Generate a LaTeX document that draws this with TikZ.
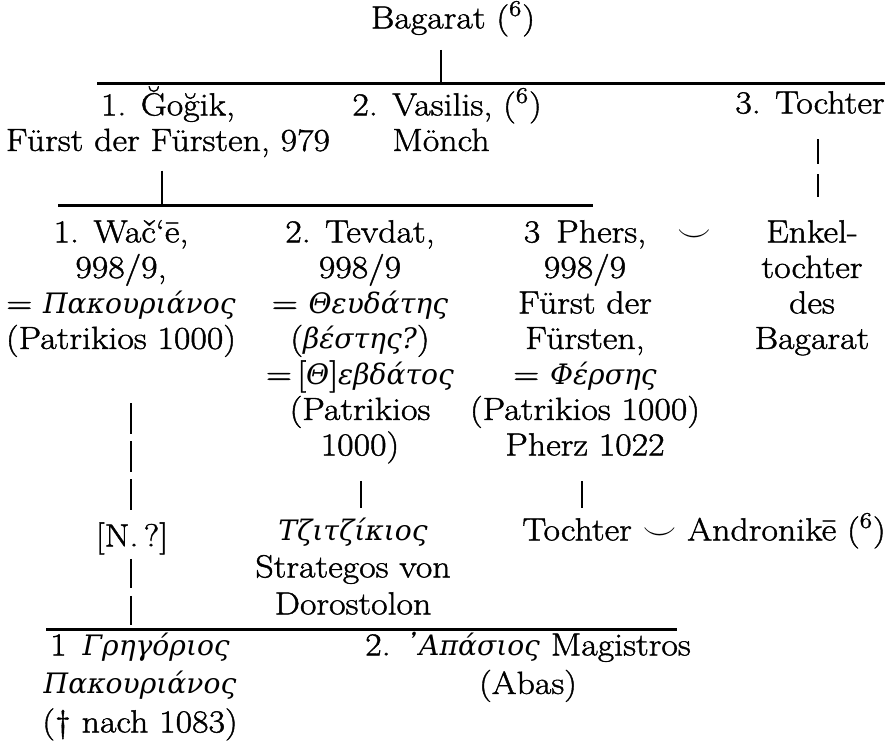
\documentclass[tikz,border=0pt]{standalone}
\usepackage{fontspec}
\setmainfont{Latin Modern Roman}[FakeStretch=1.12,FakeBold=1.3]
\newfontfamily\greekfont{DejaVu Serif}[Scale=0.88]
\newcommand{\gr}[1]{{\greekfont\itshape #1}}
\newcommand{\hs}{\rule{0pt}{1em}}
\usetikzlibrary{positioning}
\tikzstyle{person}=[inner sep=0pt,anchor=north,align=center,font=\fontsize{16}{17.75}\selectfont]
\tikzstyle{bar}=[line width=1.5pt]
\tikzstyle{stem}=[line width=1.2pt]
\newcommand{\person}[4]{\node[person,#1] (#2) at (#3) {\hs#4};}

\begin{document}
\begin{tikzpicture}[x=0.5pt,y=-0.5pt]
    \useasboundingbox (0,0) rectangle (896,746);

    \person{}{bag}{453,-4}{Bagarat (\textsuperscript{6})}
    \person{}{gog}{168,83}{1. Ğoğik,\\Fürst der Fürsten, 979}
    \person{anchor=north west,align=left}{vas}{352,83}{2. Vasilis, (\textsuperscript{6})\\\hspace*{1.25em}Mönch}
    \person{}{toc}{810,81}{3. Tochter}

    \person{}{wac}{121,210}{1. Wač‘ē,\\998/9,\\= \gr{Πακουριάνος}\\(Patrikios 1000)}
    \person{}{tev}{360,210}{2. Tevdat,\\998/9\\= \gr{Θευδάτης}\\(\gr{βέστης?})\\=\,[\gr{Θ}]\gr{εβδάτος}\\(Patrikios\\1000)}
    \person{}{phe}{585,210}{3\enspace Phers,\\998/9\\Fürst der\\Fürsten,\\= \gr{Φέρσης}\\(Patrikios 1000)\\Pherz 1022}
    \person{}{smi}{694,210}{$\smile$}
    \person{}{enk}{812,210}{Enkel-\\tochter\\des\\Bagarat}

    \person{}{nq}{132,514}{[N.\,?]}
    \person{font=\fontsize{16}{18.5}\selectfont}{tzi}{353,508}{\gr{Τζιτζίκιος}\\Strategos von\\Dorostolon}
    \person{anchor=north west}{tan}{522,508}{Tochter $\smile$ Andronikē (\textsuperscript{6})}

    \person{font=\fontsize{16}{19.25}\selectfont}{gre}{140,623}{1\enspace\gr{Γρηγόριος}\\\gr{Πακουριάνος}\\(\dag\ nach 1083)}
    \person{font=\fontsize{16}{19.25}\selectfont}{apa}{528,623}{2. \gr{᾿Απάσιος} Magistros\\(Abas)}

    \coordinate (h1a) at (97,83);
    \coordinate (h1b) at (885,83);
    \coordinate (h2a) at (58,205);
    \coordinate (h2b) at (593,205);
    \coordinate (h3a) at (46,629);
    \coordinate (h3b) at (677,629);
    \draw[bar] (h1a) -- (h1b);
    \draw[bar] (h2a) -- (h2b);
    \draw[bar] (h3a) -- (h3b);

    \coordinate (x1) at (441,83);
    \coordinate (x2) at (162,205);
    \coordinate (x3) at (818,0);
    \coordinate (x4) at (131,629);
    \coordinate (x5) at (361,0);
    \coordinate (x6) at (582,0);

    \draw[stem,shorten <=6.5pt] (x1 |- bag.south) -- (x1);
    \draw[stem,shorten <=6.5pt] (x2 |- gog.south) -- (x2);
    \draw[stem,shorten <=12.5pt,shorten >=6.5pt,dash pattern=on 12.5pt off 5pt] (x3 |- toc.south) -- (x3 |- enk.north);
    \draw[stem,shorten <=23pt,shorten >=2pt,dash pattern=on 15.5pt off 3.5pt] (x4 |- wac.south) -- (x4 |- nq.north);
    \draw[stem,shorten <=2pt,dash pattern=on 14.5pt off 4pt] (x4 |- nq.south) -- (x4);
    \draw[stem,shorten <=8.5pt] (x5 |- tev.south) -- (x5 |- tzi.north);
    \draw[stem,shorten <=12.5pt] (x6 |- phe.south) -- (x6 |- tan.north);
\end{tikzpicture}
\end{document}
